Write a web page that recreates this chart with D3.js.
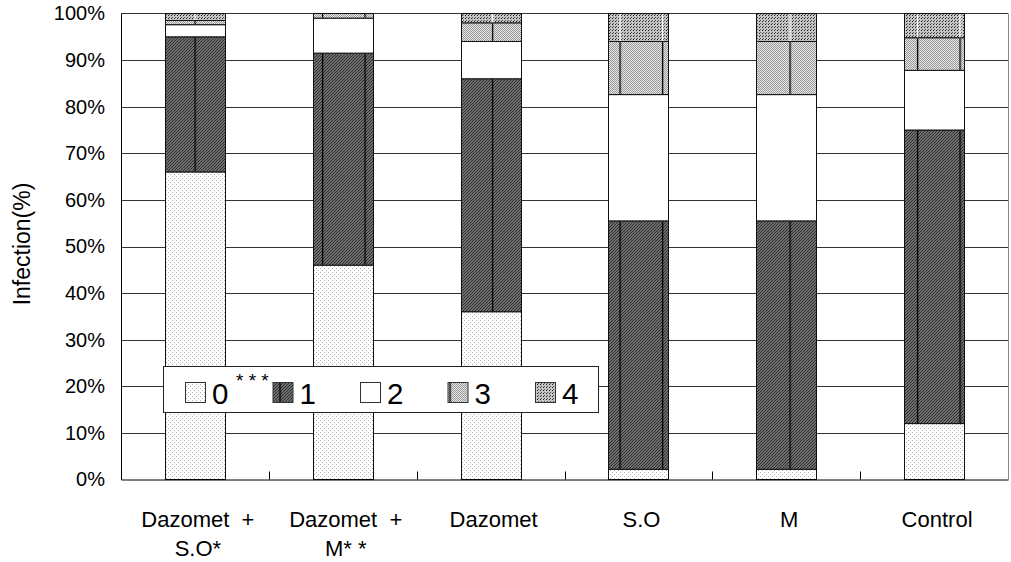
<!DOCTYPE html>
<html>
<head>
<meta charset="utf-8">
<script src="https://cdn.jsdelivr.net/npm/d3@7"></script>
<style>
  html, body { margin: 0; padding: 0; background: #fff; }
  svg { display: block; font-family: "Liberation Sans", Arial, sans-serif; }
  .xl { white-space: pre; }
</style>
</head>
<body>
<svg id="chart" width="1011" height="562"></svg>
<script>
// ---- data ----
const categories = ["Dazomet  +\nS.O*", "Dazomet  +\nM* *", "Dazomet", "S.O", "M", "Control"];
const seriesKeys = ["0", "1", "2", "3", "4"];
const grade0 = [66, 46, 36, 2.2, 2.2, 12];
const grade1 = [29, 45.5, 50, 53.3, 53.3, 63];
const grade2 = [2.6, 7.5, 8, 27.1, 27.1, 12.8];
const grade3 = [0.9, 1, 4, 11.4, 11.4, 7];
const grade4 = [1.5, 0, 2, 6, 6, 5.2];
const yTicks = [0, 0.1, 0.2, 0.3, 0.4, 0.5, 0.6, 0.7, 0.8, 0.9, 1.0];
const yTitle = "Infection(%)";
const legendNote = "* * *";

const seriesValues = [grade0, grade1, grade2, grade3, grade4];
const rows = categories.map((c, i) => {
  const r = { cat: c };
  seriesKeys.forEach((k, j) => r[k] = seriesValues[j][i] / 100);
  return r;
});

// ---- layout ----
const pL = 121, pR = 1008, pT = 13.5, pB = 479.5;

const svg = d3.select("#chart");
const x = d3.scaleBand().domain(categories).range([pL, pR])
  .paddingInner(0.594).paddingOuter(0.297);
const y = d3.scaleLinear().domain([0, 1]).range([pB, pT]);

// ---- patterns ----
const defs = svg.append("defs");
let p = defs.append("pattern").attr("id", "pat0").attr("patternUnits", "userSpaceOnUse")
  .attr("width", 4).attr("height", 4);
p.append("rect").attr("width", 4).attr("height", 4).attr("fill", "#fff");
p.append("rect").attr("x", 0).attr("y", 0).attr("width", 1).attr("height", 1).attr("fill", "#b0b0b0");
p.append("rect").attr("x", 2).attr("y", 2).attr("width", 1).attr("height", 1).attr("fill", "#b0b0b0");
p = defs.append("pattern").attr("id", "pat1").attr("patternUnits", "userSpaceOnUse")
  .attr("width", 3).attr("height", 3);
p.append("rect").attr("width", 3).attr("height", 3).attr("fill", "#8a8a8a");
p.append("path").attr("d", "M0,3 L3,0 M-1,1 L1,-1 M2,4 L4,2").attr("stroke", "#2a2a2a").attr("stroke-width", 1.1);
p = defs.append("pattern").attr("id", "pat2").attr("patternUnits", "userSpaceOnUse")
  .attr("width", 4).attr("height", 4);
p.append("rect").attr("width", 4).attr("height", 4).attr("fill", "#fff");
p = defs.append("pattern").attr("id", "pat3").attr("patternUnits", "userSpaceOnUse")
  .attr("width", 2).attr("height", 2);
p.append("rect").attr("width", 2).attr("height", 2).attr("fill", "#e6e6e6");
p.append("rect").attr("x", 0).attr("y", 0).attr("width", 1).attr("height", 1).attr("fill", "#9a9a9a");
p.append("rect").attr("x", 1).attr("y", 1).attr("width", 1).attr("height", 1).attr("fill", "#9a9a9a");
p = defs.append("pattern").attr("id", "pat4").attr("patternUnits", "userSpaceOnUse")
  .attr("width", 3).attr("height", 3);
p.append("rect").attr("width", 3).attr("height", 3).attr("fill", "#c4c4c4");
p.append("rect").attr("x", 0).attr("y", 0).attr("width", 1).attr("height", 1).attr("fill", "#222");
p.append("rect").attr("x", 1).attr("y", 2).attr("width", 1).attr("height", 1).attr("fill", "#555");
// tile-seam lines seen in the original fills
const seamStep = 42.5;
const seamX = (x(categories[0]) + x.bandwidth() / 2) % seamStep;
["#000", "#fff"].forEach((col, i) => {
  const sp = defs.append("pattern").attr("id", "seam" + i).attr("patternUnits", "userSpaceOnUse")
    .attr("x", seamX - 0.5).attr("y", 0).attr("width", seamStep).attr("height", 10);
  sp.append("rect").attr("x", 0).attr("y", 0).attr("width", 1.3).attr("height", 10).attr("fill", col);
});
const seamFor = { "1": "url(#seam0)", "3": "url(#seam0)", "4": "url(#seam1)" };

// ---- gridlines ----
svg.append("g").selectAll("line").data(yTicks.filter(t => t > 0 && t < 1)).join("line")
  .attr("x1", pL).attr("x2", pR)
  .attr("y1", d => Math.round(y(d)) + 0.5).attr("y2", d => Math.round(y(d)) + 0.5)
  .attr("stroke", "#333").attr("stroke-width", 1);
svg.append("line").attr("x1", pL).attr("x2", pR).attr("y1", pT).attr("y2", pT)
  .attr("stroke", "#333");
svg.append("line").attr("x1", pR + 0.5).attr("x2", pR + 0.5).attr("y1", pT).attr("y2", pB)
  .attr("stroke", "#888");

// ---- bars ----
const stack = d3.stack().keys(seriesKeys)(rows);
const layers = svg.append("g").selectAll("g").data(stack).join("g");
layers.selectAll("rect.seg").data(d => d.map(v => ({ v, key: d.key }))).join("rect")
  .attr("class", "seg")
  .attr("x", d => Math.round(x(d.v.data.cat)) + 0.5)
  .attr("width", Math.round(x.bandwidth()))
  .attr("y", d => y(d.v[1]))
  .attr("height", d => Math.max(0, y(d.v[0]) - y(d.v[1])))
  .attr("fill", d => "url(#pat" + d.key + ")")
  .attr("stroke", "#111").attr("stroke-width", 1);
layers.filter(d => seamFor[d.key]).selectAll("rect.seam").data(d => d.map(v => ({ v, key: d.key }))).join("rect")
  .attr("class", "seam")
  .attr("x", d => Math.round(x(d.v.data.cat)) + 1)
  .attr("width", Math.round(x.bandwidth()) - 1)
  .attr("y", d => y(d.v[1]) + 0.5)
  .attr("height", d => Math.max(0, y(d.v[0]) - y(d.v[1]) - 1))
  .attr("fill", d => seamFor[d.key]);

// ---- axes ----
const yAxis = d3.axisLeft(y).tickValues(yTicks).tickFormat(d3.format(".0%")).tickSize(0).tickPadding(16);
const gy = svg.append("g").attr("transform", `translate(${pL},0)`).call(yAxis);
gy.select(".domain").attr("stroke", "#000");
gy.selectAll("text").attr("font-size", 20).attr("fill", "#000")
  .attr("font-family", "Liberation Sans, Arial, sans-serif");

const xAxis = d3.axisBottom(x).tickSize(0).tickFormat("");
const gx = svg.append("g").attr("transform", `translate(0,${pB})`).call(xAxis);
gx.select(".domain").attr("stroke", "#000");
const bounds = categories.slice(1).map(c => x(c) - x.step() * x.paddingInner() / 2);
svg.append("g").selectAll("line").data(bounds).join("line")
  .attr("x1", d => Math.round(d) + 0.5).attr("x2", d => Math.round(d) + 0.5)
  .attr("y1", pB - 8).attr("y2", pB).attr("stroke", "#000");
const lab = svg.append("g").selectAll("text").data(categories).join("text")
  .attr("class", "xl")
  .attr("x", d => x(d) + x.bandwidth() / 2 + 3)
  .attr("y", 527)
  .attr("text-anchor", "middle").attr("font-size", 22).attr("fill", "#000");
lab.selectAll("tspan").data(d => d.split("\n")).join("tspan")
  .attr("x", function () { return d3.select(this.parentNode).attr("x"); })
  .attr("dy", (d, i) => i === 0 ? 0 : 29)
  .text(d => d);

svg.append("text").attr("transform", "translate(30,244) rotate(-90)")
  .attr("text-anchor", "middle").attr("font-size", 23).attr("fill", "#000").text(yTitle);

// ---- legend ----
const lg = svg.append("g");
lg.append("rect").attr("x", 163.5).attr("y", 366.5).attr("width", 435).attr("height", 46)
  .attr("fill", "#fff").attr("stroke", "#222");
const items = lg.selectAll("g.item").data(seriesKeys).join("g").attr("class", "item");
items.append("rect").attr("x", (d, i) => 185.5 + i * 87.5).attr("y", 382.5).attr("width", 20).attr("height", 20)
  .attr("fill", d => "url(#pat" + d + ")").attr("stroke", "#333");
items.filter(d => seamFor[d]).append("rect").attr("x", d => 186 + seriesKeys.indexOf(d) * 87.5)
  .attr("y", 383).attr("width", 19).attr("height", 19).attr("fill", d => seamFor[d]);
items.append("text").attr("x", (d, i) => 212 + i * 87.5).attr("y", 404)
  .attr("font-size", 29.5).attr("fill", "#000").text(d => d);
lg.append("text").attr("x", 236).attr("y", 387).attr("font-size", 19).attr("fill", "#000").text(legendNote);
</script>
</body>
</html>
